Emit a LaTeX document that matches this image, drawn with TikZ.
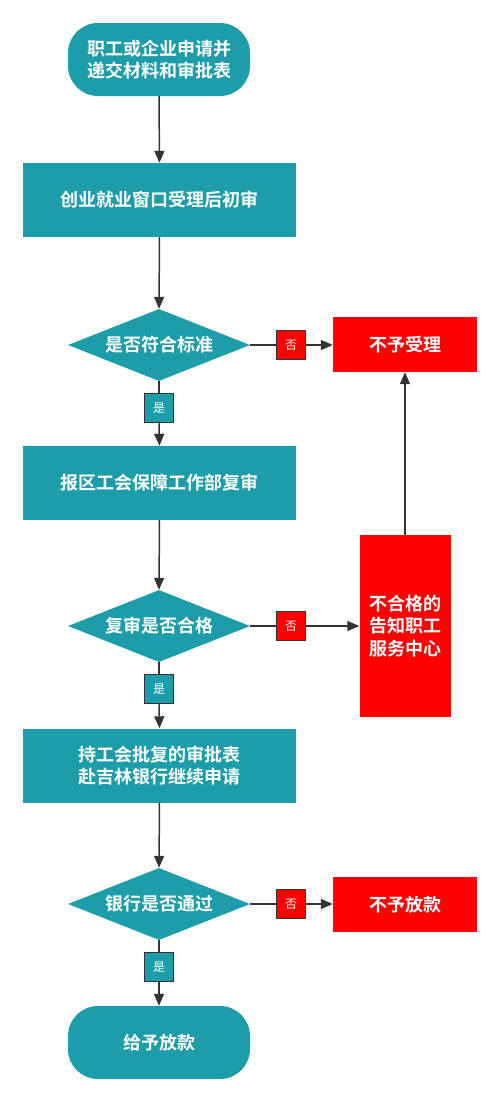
\documentclass[tikz,border=0pt]{standalone}
\usepackage{fontspec}
\setmainfont{Noto Sans CJK SC}
\newfontfamily\cjkb{Noto Sans CJK SC Bold}
\usetikzlibrary{shapes.geometric,arrows.meta}
\definecolor{teal1}{HTML}{1D9CA9}
\definecolor{red1}{HTML}{FF0000}
\definecolor{line1}{HTML}{333333}
\begin{document}
\begin{tikzpicture}[x=1pt,y=-1pt,
  txt/.style={text=white,font=\cjkb\fontsize{18pt}{22.5pt}\selectfont,align=center,inner sep=0pt},
  term/.style={txt,fill=teal1,rounded corners=30pt,minimum width=182pt,minimum height=73pt},
  proc/.style={txt,fill=teal1,minimum width=273pt,minimum height=74pt},
  dec/.style={txt,fill=teal1,diamond,aspect=2.56,minimum width=182pt,minimum height=72pt},
  bad/.style={txt,fill=red1,minimum width=144pt,minimum height=55pt},
  lab/.style={draw=line1,line width=1.5pt,minimum width=29pt,minimum height=29pt,inner sep=0pt,text=white,font=\fontsize{12pt}{12pt}\selectfont},
  ylab/.style={lab,fill=teal1},
  nlab/.style={lab,fill=red1},
  conn/.style={draw=line1,line width=1.5pt},
  arr/.style={conn,-{Triangle[length=12pt,width=10pt]}}]
\useasboundingbox (0,0) rectangle (500,1103);
\node[term] (s) at (159,59.5) {职工或企业申请并\\递交材料和审批表};
\node[proc] (b1) at (159.5,200) {创业就业窗口受理后初审};
\node[dec] (d1) at (159,345) {是否符合标准};
\node[nlab] (n1) at (291,345) {否};
\node[bad] (r1) at (405,344.5) {不予受理};
\node[ylab] (y1) at (159,408) {是};
\node[proc] (b2) at (159.5,483) {报区工会保障工作部复审};
\node[dec] (d2) at (159,626) {复审是否合格};
\node[nlab] (n2) at (291,626) {否};
\node[txt,fill=red1,minimum width=91pt,minimum height=182pt] (r2) at (405,626) {不合格的\\告知职工\\服务中心};
\node[ylab] (y2) at (159,689) {是};
\node[proc] (b3) at (159.5,765.5) {持工会批复的审批表\\赴吉林银行继续申请};
\node[dec] (d3) at (159,904) {银行是否通过};
\node[nlab] (n3) at (291,904) {否};
\node[bad] (r3) at (405,904.5) {不予放款};
\node[ylab] (y3) at (159,967) {是};
\node[term] (e) at (159,1042.5) {给予放款};
\draw[arr] (s.south) -- (b1.north);
\draw[arr] (b1.south) -- (d1.north);
\draw[conn] (d1.east) -- (n1.west);
\draw[arr] (n1.east) -- (n1.east -| r1.west);
\draw[conn] (d1.south) -- (y1.north);
\draw[arr] (y1.south) -- (b2.north);
\draw[arr] (b2.south) -- (d2.north);
\draw[conn] (d2.east) -- (n2.west);
\draw[arr] (n2.east) -- (r2.west);
\draw[arr] (r2.north) -- (r1.south);
\draw[conn] (d2.south) -- (y2.north);
\draw[arr] (y2.south) -- (b3.north);
\draw[arr] (b3.south) -- (d3.north);
\draw[conn] (d3.east) -- (n3.west);
\draw[arr] (n3.east) -- (n3.east -| r3.west);
\draw[conn] (d3.south) -- (y3.north);
\draw[arr] (y3.south) -- (e.north);
\end{tikzpicture}
\end{document}
